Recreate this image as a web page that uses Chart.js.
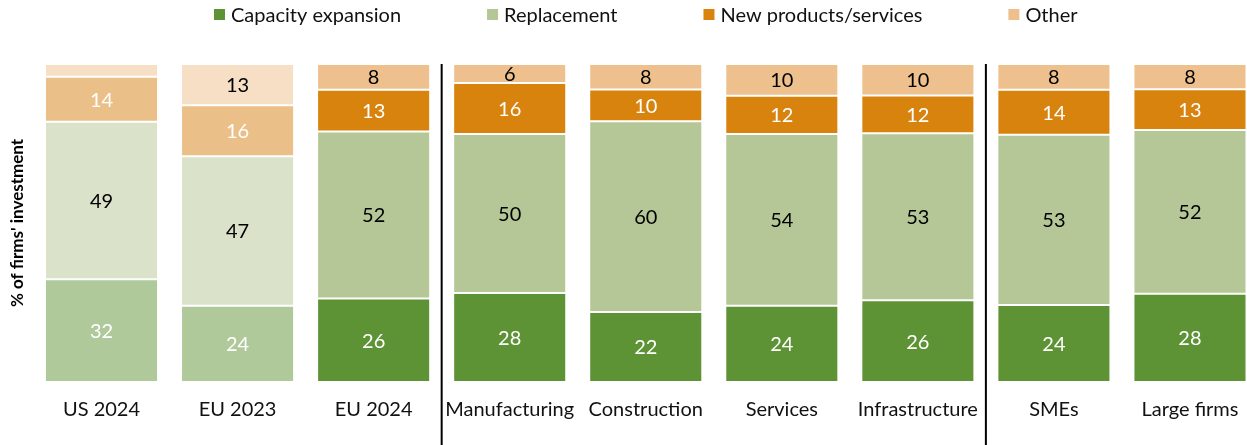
<!DOCTYPE html>
<html><head><meta charset="utf-8">
<script src="https://cdn.jsdelivr.net/npm/chart.js@4/dist/chart.umd.min.js"></script>
<style>
html,body{margin:0;padding:0;background:#fff;overflow:hidden;width:1247px;height:445px}
#wrap{width:1258px;height:445px}
</style></head>
<body><div id="wrap"><canvas id="c" width="1258" height="445"></canvas></div>
<script>
// ---- data ----
const categories = ['US 2024','EU 2023','EU 2024','Manufacturing','Construction','Services','Infrastructure','SMEs','Large firms'];
const capacityExpansion = [32,24,26,28,22,24,26,24,28];
const replacement       = [49,47,52,50,60,54,53,53,52];
const newProducts       = [14,16,13,16,10,12,12,14,13];
const other             = [4,13,8,6,8,10,10,8,8];
const seriesNames = ['Capacity expansion','Replacement','New products/services','Other'];
const groupStarts = [3,7];          // first category of each new group (separator lines)
const fadedCategories = [0,1];      // drawn in pale colours
const minLabelled = 5;              // smaller segments carry no label

// ---- styles ----
const FONT = 'Lato, "Noto Sans", sans-serif';
const colours = ['#5E9335','#B5C797','#D9830F','#EDC08E'];
const fadedColours = ['#AFC99A','#DAE3C9','#EBBF88','#F6DFC4'];
const labelColours = ['#ffffff','#000000','#ffffff','#000000'];

const raw = [capacityExpansion, replacement, newProducts, other];
const totals = categories.map((_, i) => raw.reduce((s, a) => s + a[i], 0));

const datasets = raw.map((arr, di) => ({
  label: seriesNames[di],
  data: arr.map((v, i) => v / totals[i] * 100),
  backgroundColor: categories.map((_, i) => fadedCategories.includes(i) ? fadedColours[di] : colours[di]),
  legendColour: colours[di],
  borderColor: '#ffffff',
  borderWidth: 1,
  borderSkipped: false,
  barPercentage: 0.831,
  categoryPercentage: 1.0
}));

const labelPlugin = {
  id: 'segLabels',
  afterDatasetsDraw(chart) {
    const ctx = chart.ctx;
    ctx.save();
    ctx.font = '20px ' + FONT;
    ctx.textAlign = 'center';
    ctx.textBaseline = 'middle';
    chart.data.datasets.forEach((ds, di) => {
      const meta = chart.getDatasetMeta(di);
      meta.data.forEach((el, i) => {
        const v = raw[di][i];
        if (v < minLabelled) return;
        const p = el.getProps(['x','y','base'], true);
        ctx.fillStyle = labelColours[di];
        ctx.fillText(String(v), p.x, (p.y + p.base) / 2 + 1);
      });
    });
    ctx.restore();
  }
};

const separatorPlugin = {
  id: 'separators',
  afterDraw(chart) {
    const ctx = chart.ctx, xs = chart.scales.x;
    ctx.save();
    ctx.strokeStyle = '#000';
    ctx.lineWidth = 2;
    groupStarts.forEach(g => {
      const x = (xs.getPixelForValue(g - 1) + xs.getPixelForValue(g)) / 2;
      ctx.beginPath();
      ctx.moveTo(x, chart.chartArea.top);
      ctx.lineTo(x, chart.height);
      ctx.stroke();
    });
    ctx.restore();
  }
};

const legendPlugin = {
  id: 'topLegend',
  afterDraw(chart) {
    const ctx = chart.ctx;
    const box = 11, textGap = 6, itemGap = 86, cy = 14.5;
    ctx.save();
    ctx.font = '20px ' + FONT;
    ctx.textBaseline = 'middle';
    ctx.textAlign = 'left';
    const items = chart.data.datasets.map(ds => ({text: ds.label, col: ds.legendColour, w: ctx.measureText(ds.label).width}));
    const total = items.reduce((s, it) => s + box + textGap + it.w, 0) + itemGap * (items.length - 1);
    const ca = chart.chartArea;
    let x = (ca.left + ca.right) / 2 - total / 2;
    items.forEach(it => {
      ctx.fillStyle = it.col;
      ctx.fillRect(x, cy - box / 2, box, box);
      ctx.fillStyle = '#111';
      ctx.fillText(it.text, x + box + textGap, cy + 1);
      x += box + textGap + it.w + itemGap;
    });
    ctx.restore();
  }
};

new Chart(document.getElementById('c'), {
  type: 'bar',
  data: { labels: categories, datasets },
  options: {
    responsive: false,
    animation: false,
    layout: { padding: { top: 64, left: 0, right: 0, bottom: 0 } },
    plugins: { legend: { display: false }, tooltip: { enabled: false } },
    scales: {
      x: {
        stacked: true,
        grid: { display: false, drawTicks: false },
        border: { display: false },
        ticks: { color: '#111', font: { family: FONT, size: 20 }, padding: 16, maxRotation: 0, autoSkip: false },
        afterFit(s) { s.height = 63; }
      },
      y: {
        stacked: true,
        min: 0, max: 100,
        grid: { display: false, drawTicks: false },
        border: { display: false },
        ticks: { display: false },
        title: { display: true, text: "% of firms' investment", color: '#000', font: { family: FONT, size: 17, weight: 'bold' }, padding: { top: 7, bottom: 0 } },
        afterFit(s) { s.width = 33.5; }
      }
    }
  },
  plugins: [labelPlugin, separatorPlugin, legendPlugin]
});
</script>
</body></html>
